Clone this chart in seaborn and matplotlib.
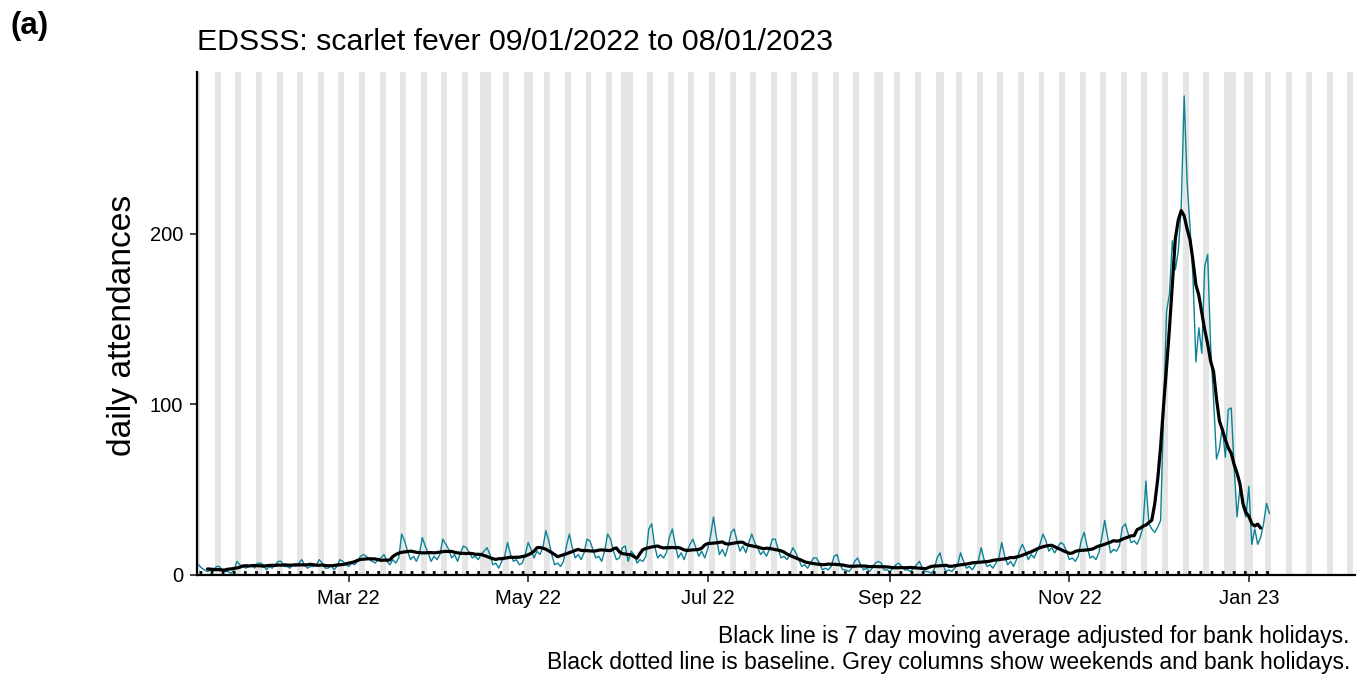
import pandas as pd
import seaborn as sns
import matplotlib.pyplot as plt
import matplotlib.dates as mdates

# daily attendances, one row per week (Sun..Sat), first day 09/01/2022
jan_apr = [
    6, 4, 3, 2, 3, 2, 5,
    5, 3, 2, 2, 1, 3, 8,
    6, 5, 4, 5, 6, 4, 7,
    7, 6, 3, 5, 4, 6, 8,
    8, 5, 5, 4, 6, 5, 7,
    9, 6, 4, 5, 5, 6, 9,
    7, 4, 4, 6, 3, 5, 9,
    8, 6, 5, 7, 6, 8, 11,
    12, 11, 9, 8, 7, 9, 10,
    12, 8, 6, 9, 7, 10, 24,
    20, 14, 9, 11, 8, 12, 22,
    17, 13, 8, 11, 9, 12, 21,
    18, 15, 10, 12, 8, 13, 17,
]
apr_jul = [
    16, 13, 10, 11, 9, 12, 14,
    16, 12, 6, 7, 4, 8, 11,
    19, 12, 8, 9, 6, 7, 12,
    19, 15, 10, 14, 12, 16, 26,
    20, 12, 6, 7, 5, 8, 17,
    24, 16, 10, 12, 9, 13, 21,
    20, 15, 10, 11, 8, 14, 24,
    21, 14, 9, 10, 16, 17, 8,
    14, 12, 7, 9, 8, 11, 27,
    30, 17, 10, 12, 10, 13, 22,
    27, 18, 10, 13, 9, 14, 18,
    21, 16, 11, 14, 10, 15, 23,
    34, 22, 12, 15, 11, 17, 25,
]
jul_oct = [
    27, 20, 14, 17, 13, 19, 24,
    19, 16, 12, 14, 11, 15, 21,
    21, 15, 10, 11, 9, 12, 16,
    13, 9, 5, 6, 4, 7, 10,
    10, 7, 3, 4, 3, 5, 11,
    12, 6, 3, 3, 2, 4, 8,
    10, 6, 3, 4, 2, 4, 7,
    8, 7, 3, 3, 2, 4, 6,
    7, 5, 3, 3, 2, 4, 6,
    8, 4, 2, 2, 1, 3, 10,
    13, 6, 2, 3, 2, 4, 6,
    13, 8, 4, 5, 3, 6, 8,
    16, 9, 5, 6, 4, 7, 10,
]
oct_dec = [
    19, 11, 6, 8, 5, 9, 14,
    18, 14, 9, 12, 10, 14, 18,
    24, 20, 14, 16, 13, 16, 19,
    18, 14, 9, 10, 8, 11, 20,
    25, 17, 10, 11, 9, 13, 22,
    32, 22, 13, 15, 14, 17, 28,
    30, 24, 19, 20, 18, 22, 28,
    55, 30, 27, 25, 28, 32, 95,
]
winter_peak = [
    154, 165, 196, 179, 190, 215, 281,
    231, 204, 175, 125, 145, 130, 181,
    188, 134, 103, 68, 74, 87, 69,
    97, 98, 63, 34, 52, 40, 34,
    52, 18, 27, 18, 22, 30, 42,
    36,
]
baseline_level = 1.5

bank_holidays = ['2022-04-15', '2022-04-18', '2022-05-02', '2022-06-02',
                 '2022-06-03', '2022-08-29', '2022-09-19', '2022-12-26',
                 '2022-12-27', '2023-01-02']

daily = jan_apr + apr_jul + jul_oct + oct_dec + winter_peak
df = pd.DataFrame({'date': pd.date_range('2022-01-09', periods=len(daily), freq='D'),
                   'count': daily})
df['ma7'] = df['count'].rolling(7, center=True).mean()
df['baseline'] = baseline_level

days = pd.date_range('2022-01-09', '2023-02-05', freq='D')
grey_days = days[(days.dayofweek >= 5) | days.isin(pd.to_datetime(bank_holidays))]

sns.set_theme(style='ticks')
plt.rcParams['font.family'] = ['Liberation Sans', 'DejaVu Sans']
plt.rcParams['text.color'] = 'black'

fig = plt.figure(figsize=(13.57, 6.74), dpi=100)
ax = fig.add_axes([197 / 1357, 1 - 575 / 674, 1158 / 1357, 503 / 674])

ytop = 295
ax.bar(grey_days, height=ytop, width=1.0, color='#e5e5e5', zorder=0,
       linewidth=0, antialiased=False)
sns.lineplot(data=df, x='date', y='count', color='#0a8296', linewidth=1.0,
             estimator=None, ax=ax, zorder=2)
sns.lineplot(data=df, x='date', y='ma7', color='black', linewidth=2.3,
             estimator=None, ax=ax, zorder=3)
sns.lineplot(data=df, x='date', y='baseline', color='black', linewidth=2.0,
             linestyle=(0, (1, 3)), estimator=None, ax=ax, zorder=3)

ax.set_xlim(pd.Timestamp('2022-01-08 10:00'), pd.Timestamp('2023-02-06 02:00'))
ax.set_ylim(0, ytop)
ax.set_yticks([0, 100, 200])
ax.xaxis.set_major_locator(mdates.MonthLocator(bymonth=[1, 3, 5, 7, 9, 11]))
ax.xaxis.set_major_formatter(mdates.DateFormatter('%b %y'))
ax.set_xlabel('')
ax.set_ylabel('')

sns.despine(ax=ax)
for s in ['left', 'bottom']:
    ax.spines[s].set_linewidth(1.6)
    ax.spines[s].set_color('black')
ax.tick_params(length=5, width=1.3, color='#333333', labelsize=14.5,
               labelcolor='black', pad=5)

fig.text(123 / 1357, 1 - 325 / 674, 'daily attendances', rotation=90,
         ha='center', va='center', size=24.2)
fig.text(197 / 1357, 1 - 50 / 674, 'EDSSS: scarlet fever 09/01/2022 to 08/01/2023',
         ha='left', va='baseline', size=21.8)
fig.text(10 / 1357, 1 - 34 / 674, '(a)', ha='left', va='baseline', size=22.5,
         weight='bold')
fig.text(1350 / 1357, 1 - 637 / 674,
         'Black line is 7 day moving average adjusted for bank holidays.',
         ha='right', va='center', size=16.5)
fig.text(1350 / 1357, 1 - 662 / 674,
         'Black dotted line is baseline. Grey columns show weekends and bank holidays.',
         ha='right', va='center', size=16.5)

fig.savefig('out.png', dpi=100)
